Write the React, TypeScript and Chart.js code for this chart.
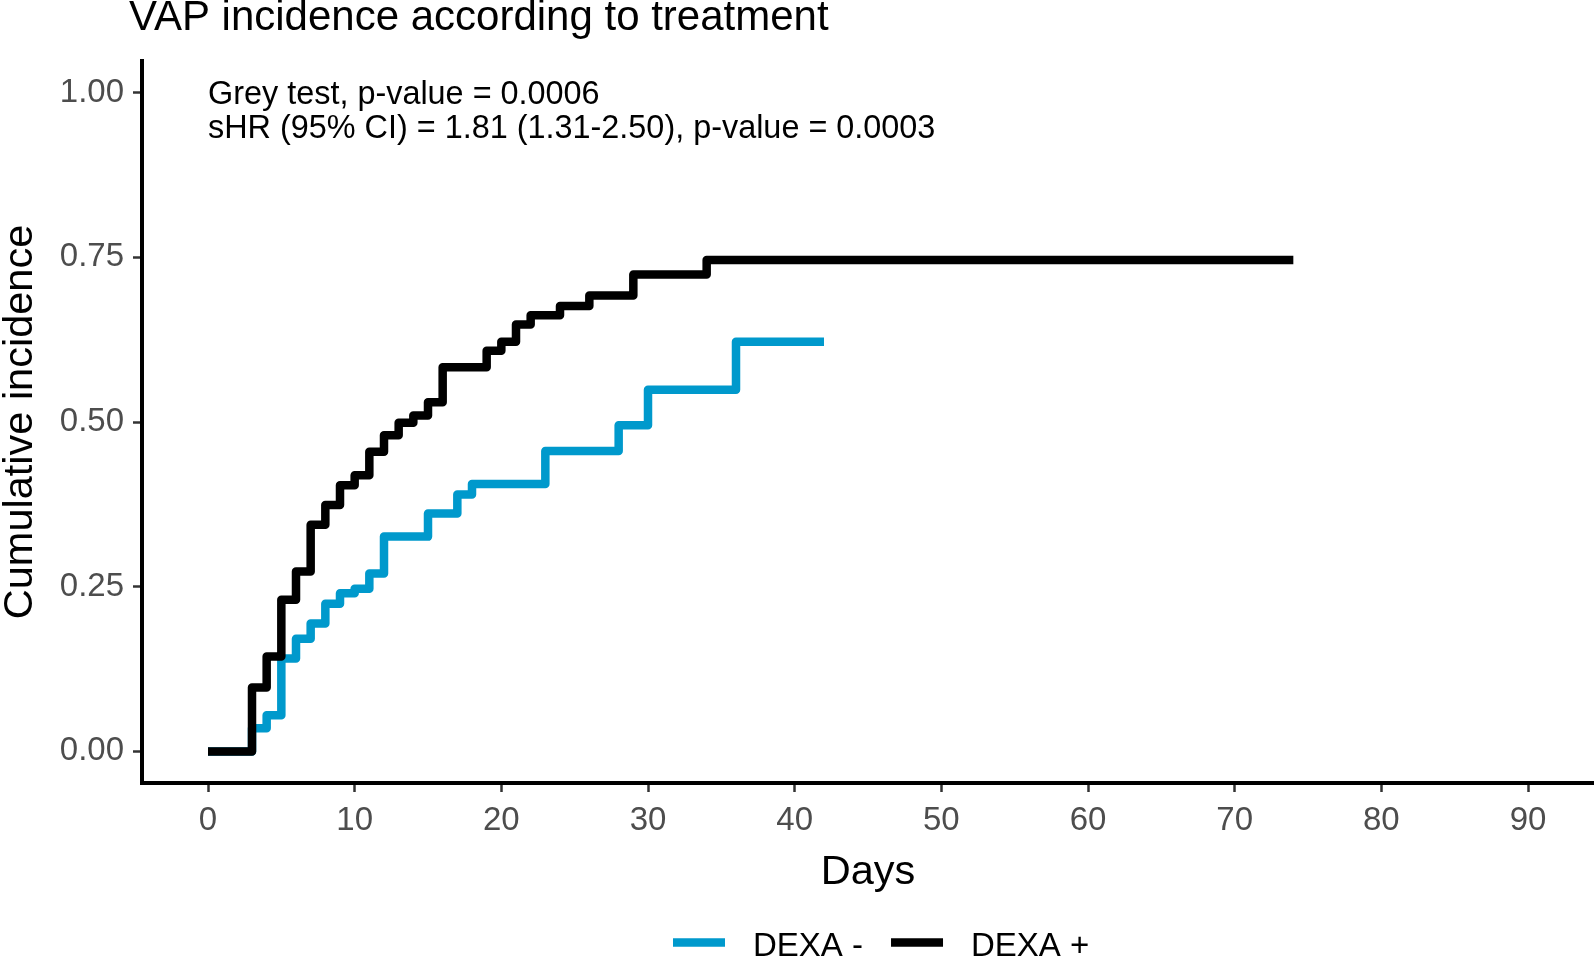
import { useEffect, useRef } from "react";
import { Chart, registerables } from "chart.js";

Chart.register(...registerables);

const FONT = "'Liberation Sans', Arial, Helvetica, sans-serif";

const TITLE = "VAP incidence according to treatment";
const ANNOTATION_LINES = [
  "Grey test, p-value = 0.0006",
  "sHR (95% CI) = 1.81 (1.31-2.50), p-value = 0.0003",
];
const X_TITLE = "Days";
const Y_TITLE = "Cumulative incidence";
const SERIES_LABELS = ["DEXA -", "DEXA +"];
const SERIES_COLORS = ["#0099CC", "#000000"];

const DEXA_NEG_DAYS = [0, 3, 4, 5, 6, 7, 8, 9, 10, 11, 12, 15, 17, 18, 23, 28, 30, 36, 42];
const DEXA_NEG_CI = [0, 0.035, 0.055, 0.141, 0.171, 0.194, 0.224, 0.24, 0.247, 0.27, 0.326, 0.361, 0.39, 0.406, 0.456, 0.495, 0.549, 0.622, 0.622];

const DEXA_POS_DAYS = [0, 3, 4, 5, 6, 7, 8, 9, 10, 11, 12, 13, 14, 15, 16, 19, 20, 21, 22, 24, 26, 29, 34, 74];
const DEXA_POS_CI = [0, 0.097, 0.144, 0.23, 0.273, 0.344, 0.374, 0.404, 0.419, 0.455, 0.48, 0.499, 0.51, 0.53, 0.583, 0.608, 0.622, 0.648, 0.662, 0.676, 0.692, 0.724, 0.746, 0.746];

const X_TICKS = [0, 10, 20, 30, 40, 50, 60, 70, 80, 90];
const Y_TICKS = [0, 0.25, 0.5, 0.75, 1];

const toPoints = (xs: number[], ys: number[]) => xs.map((x, i) => ({ x, y: ys[i] }));

const overlayPlugin = {
  id: "overlay",
  afterDraw(chart: any) {
    const { ctx, scales } = chart;
    ctx.save();
    ctx.fillStyle = "#000";
    ctx.textAlign = "left";
    ctx.textBaseline = "alphabetic";

    // title
    ctx.font = `42px ${FONT}`;
    ctx.fillText(TITLE, 129, 30);

    // annotation anchored at day 0, incidence 1.00
    ctx.font = `32.4px ${FONT}`;
    const ax = scales.x.getPixelForValue(0);
    const ay = scales.y.getPixelForValue(1);
    ANNOTATION_LINES.forEach((line, i) => {
      ctx.fillText(line, ax, ay + 11.5 + i * 33.5);
    });

    // legend
    ctx.font = `33px ${FONT}`;
    let lx = 673;
    const ly = 942.5;
    chart.data.datasets.forEach((ds: any) => {
      ctx.strokeStyle = ds.borderColor;
      ctx.lineWidth = 8.5;
      ctx.lineCap = "butt";
      ctx.beginPath();
      ctx.moveTo(lx, ly);
      ctx.lineTo(lx + 52, ly);
      ctx.stroke();
      lx += 52 + 28;
      ctx.fillStyle = "#000";
      ctx.fillText(ds.label, lx, 956);
      lx += ctx.measureText(ds.label).width + 28;
    });
    ctx.restore();
  },
};

export default function App() {
  const canvasRef = useRef<HTMLCanvasElement | null>(null);

  useEffect(() => {
    const canvas = canvasRef.current;
    if (!canvas) return;
    const chart = new Chart(canvas, {
      type: "line",
      data: {
        datasets: [
          {
            label: SERIES_LABELS[0],
            data: toPoints(DEXA_NEG_DAYS, DEXA_NEG_CI),
            borderColor: SERIES_COLORS[0],
            backgroundColor: SERIES_COLORS[0],
            borderWidth: 8.5,
            stepped: "before",
            pointRadius: 0,
            borderJoinStyle: "round",
            borderCapStyle: "butt",
            order: 1,
          },
          {
            label: SERIES_LABELS[1],
            data: toPoints(DEXA_POS_DAYS, DEXA_POS_CI),
            borderColor: SERIES_COLORS[1],
            backgroundColor: SERIES_COLORS[1],
            borderWidth: 8.5,
            stepped: "before",
            pointRadius: 0,
            borderJoinStyle: "round",
            borderCapStyle: "butt",
            order: 0,
          },
        ],
      },
      options: {
        animation: false,
        responsive: false,
        maintainAspectRatio: false,
        layout: { padding: { top: 61, left: 0, right: 0, bottom: 0 } },
        plugins: {
          legend: { display: false },
          title: { display: false },
          tooltip: { enabled: false },
        },
        scales: {
          x: {
            type: "linear",
            min: -4.5,
            max: 94.5,
            afterFit: (scale: any) => {
              scale.height = 173;
            },
            afterBuildTicks: (scale: any) => {
              scale.ticks = X_TICKS.map((v) => ({ value: v }));
            },
            ticks: {
              color: "#4D4D4D",
              font: { family: FONT, size: 33 },
              padding: 9,
              maxRotation: 0,
              autoSkip: false,
              callback: (v: any) => String(v),
            },
            grid: {
              drawOnChartArea: false,
              drawTicks: true,
              tickLength: 9,
              tickColor: "#333333",
              tickWidth: 2.5,
            },
            border: { display: true, color: "#000", width: 4 },
            title: {
              display: true,
              text: X_TITLE,
              color: "#000",
              font: { family: FONT, size: 41.5, lineHeight: 1.2 },
              padding: { top: 0, bottom: 59 },
            },
          },
          y: {
            type: "linear",
            min: -0.048,
            max: 1.048,
            afterFit: (scale: any) => {
              scale.width = 142;
            },
            afterBuildTicks: (scale: any) => {
              scale.ticks = Y_TICKS.map((v) => ({ value: v }));
            },
            ticks: {
              color: "#4D4D4D",
              font: { family: FONT, size: 33 },
              padding: 9,
              autoSkip: false,
              callback: (v: any) => Number(v).toFixed(2),
            },
            grid: {
              drawOnChartArea: false,
              drawTicks: true,
              tickLength: 9,
              tickColor: "#333333",
              tickWidth: 2.5,
            },
            border: { display: true, color: "#000", width: 4 },
            title: {
              display: true,
              text: Y_TITLE,
              color: "#000",
              font: { family: FONT, size: 41.5, lineHeight: 1.0 },
              padding: { top: 0, bottom: 0 },
            },
          },
        },
      },
      plugins: [overlayPlugin],
    } as any);
    return () => chart.destroy();
  }, []);

  return (
    <div
      style={{
        position: "fixed",
        left: 0,
        top: 0,
        width: 1594,
        height: 956,
        overflow: "hidden",
        background: "#fff",
      }}
    >
      <canvas ref={canvasRef} width={1594} height={956} style={{ display: "block", width: 1594, height: 956 }} />
    </div>
  );
}
